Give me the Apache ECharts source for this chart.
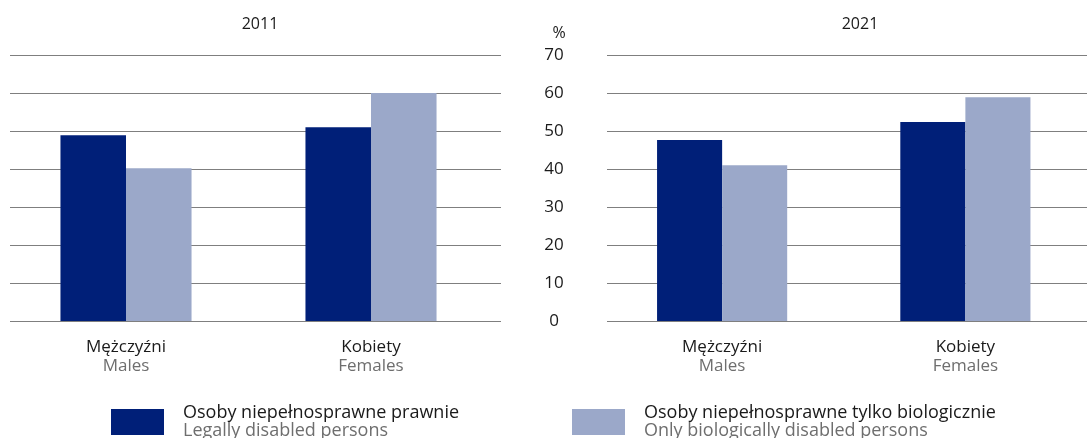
<!DOCTYPE html>
<html>
<head>
<meta charset="utf-8">
<script src="https://cdn.jsdelivr.net/npm/echarts@6/dist/echarts.min.js"></script>
<style>
  html, body { margin: 0; padding: 0; background: #fff; }
  #chart { width: 1087px; height: 438px; }
</style>
</head>
<body>
<div id="chart"></div>
<script>
(function(){

    // dane
    var categoriesPl = ['Mężczyźni', 'Kobiety'];
    var categoriesEn = ['Males', 'Females'];
    var years = ['2011', '2021'];
    var seriesPl = ['Osoby niepełnosprawne prawnie', 'Osoby niepełnosprawne tylko biologicznie'];
    var seriesEn = ['Legally disabled persons', 'Only biologically disabled persons'];
    var legal2011 = [48.9, 51.0];
    var bio2011 = [40.2, 60.0];
    var legal2021 = [47.6, 52.4];
    var bio2021 = [41.0, 58.9];
    var yTicks = [0, 10, 20, 30, 40, 50, 60, 70];

    var FONT = '"Open Sans", "Noto Sans", sans-serif';
    var DARK = '#001f78';
    var LIGHT = '#9ba8c9';
    var LINE = '#7f7f7f';

    var myChart = echarts.init(document.getElementById('chart'));

    var catData = categoriesPl.map(function (c, i) { return c + '\n' + categoriesEn[i]; });

    // siatki: 0,1 - linie; 2,3 - słupki
    var grids = [
        {left: 10, top: 55, width: 491, height: 266},
        {left: 607, top: 55, width: 490, height: 266},
        {left: 3.5, top: 55, width: 490, height: 266},
        {left: 600.5, top: 55, width: 490, height: 266}
    ];

    var xAxes = [], yAxes = [];
    for (var g = 0; g < 4; g++) {
        var lines = g < 2;
        xAxes.push({
            gridIndex: g,
            type: 'category',
            data: catData,
            show: !lines,
            axisLine: {show: false},
            axisTick: {show: false},
            axisLabel: {
                margin: 17,
                formatter: function (v) {
                    var p = v.split('\n');
                    return '{a|' + p[0] + '}\n{b|' + p[1] + '}';
                },
                rich: {
                    a: {fontFamily: FONT, fontSize: 17, color: '#1a1a1a', lineHeight: 19},
                    b: {fontFamily: FONT, fontSize: 17, color: '#6e6e6e', lineHeight: 19}
                }
            }
        });
        yAxes.push({
            gridIndex: g,
            type: 'value',
            min: 0,
            max: 70,
            interval: 10,
            show: lines,
            axisLine: {show: false},
            axisTick: {show: false},
            splitLine: {show: lines, lineStyle: {color: LINE, width: 1}},
            axisLabel: {
                show: g === 1,
                margin: 53,
                align: 'center',
                fontFamily: FONT,
                fontSize: 17,
                color: '#1a1a1a',
                formatter: function (v) { return yTicks.indexOf(v) >= 0 ? String(v) : ''; }
            }
        });
    }

    function bar(name, data, gi, color) {
        return {
            name: name,
            type: 'bar',
            xAxisIndex: gi,
            yAxisIndex: gi,
            data: data,
            barGap: '0%',
            barCategoryGap: '46.5%',
            itemStyle: {color: color},
            animation: false
        };
    }

    function legendFor(i, left) {
        return {
            left: left,
            top: 404,
            padding: 0,
            data: [seriesPl[i]],
            itemWidth: 53,
            itemHeight: 26,
            icon: 'rect',
            selectedMode: false,
            formatter: function (n) {
                return '{a|' + n + '}\n{b|' + seriesEn[i] + '}';
            },
            textStyle: {
                padding: [0, 0, 0, 14],
                rich: {
                    a: {fontFamily: FONT, fontSize: 18, color: '#1a1a1a', lineHeight: 18},
                    b: {fontFamily: FONT, fontSize: 18, color: '#6e6e6e', lineHeight: 18}
                }
            }
        };
    }

    var option = {
        backgroundColor: '#fff',
        title: [
            {text: years[0], left: 255, top: 11, textAlign: 'center', textStyle: {fontFamily: FONT, fontSize: 16, fontWeight: 'normal', color: '#1a1a1a'}},
            {text: years[1], left: 855, top: 11, textAlign: 'center', textStyle: {fontFamily: FONT, fontSize: 16, fontWeight: 'normal', color: '#1a1a1a'}},
            {text: '%', left: 554, top: 20, textAlign: 'center', textStyle: {fontFamily: FONT, fontSize: 16, fontWeight: 'normal', color: '#1a1a1a'}}
        ],
        grid: grids,
        xAxis: xAxes,
        yAxis: yAxes,
        legend: [legendFor(0, 111), legendFor(1, 572)],
        series: [
            bar(seriesPl[0], legal2011, 2, DARK),
            bar(seriesPl[1], bio2011, 2, LIGHT),
            bar(seriesPl[0], legal2021, 3, DARK),
            bar(seriesPl[1], bio2021, 3, LIGHT)
        ]
    };

    myChart.setOption(option);

})();
</script>
</body>
</html>
